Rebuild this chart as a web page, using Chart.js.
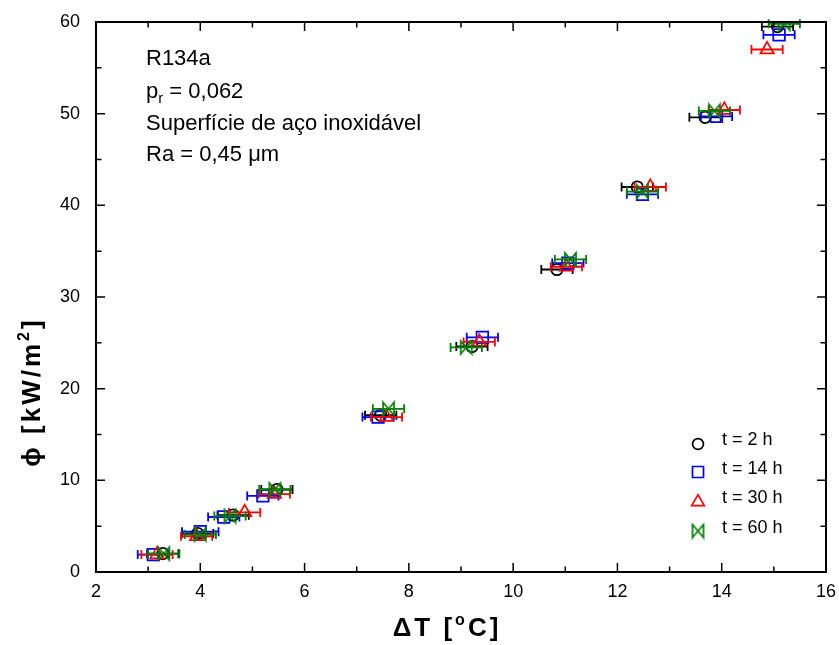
<!DOCTYPE html>
<html><head><meta charset="utf-8">
<script src="https://cdn.jsdelivr.net/npm/chart.js@4/dist/chart.umd.min.js"></script>
<style>html,body{margin:0;padding:0;background:#fff;} canvas{display:block;}</style>
</head><body>
<canvas id="c" width="839" height="645"></canvas>
<script>
// ---- data ----
const seriesLabels = ['t = 2 h', 't = 14 h', 't = 30 h', 't = 60 h'];
const dT_2h  = [3.28, 3.95, 4.63, 5.47, 7.46, 9.21, 10.84, 12.38, 13.68, 15.07];
const phi_2h = [2.0, 4.2, 6.2, 9.0, 17.1, 24.6, 33.0, 42.0, 49.6, 59.5];
const err_2h = [0.3, 0.3, 0.3, 0.3, 0.3, 0.3, 0.3, 0.3, 0.3, 0.3];
const dT_14h  = [3.10, 4.00, 4.45, 5.20, 7.41, 9.41, 11.05, 12.48, 13.90, 15.10];
const phi_14h = [1.9, 4.4, 6.0, 8.3, 16.9, 25.6, 33.7, 41.2, 49.7, 58.6];
const err_14h = [0.3, 0.35, 0.3, 0.3, 0.3, 0.3, 0.3, 0.3, 0.3, 0.3];
const dT_30h  = [3.17, 3.93, 4.85, 5.42, 7.57, 9.35, 11.02, 12.63, 14.05, 14.87];
const phi_30h = [1.9, 3.9, 6.5, 8.5, 16.9, 25.1, 33.3, 42.0, 50.4, 57.0];
const err_30h = [0.3, 0.3, 0.3, 0.3, 0.3, 0.3, 0.3, 0.3, 0.3, 0.3];
const dT_60h  = [3.30, 4.00, 4.57, 5.43, 7.61, 9.10, 11.10, 12.48, 13.86, 15.20];
const phi_60h = [2.0, 4.1, 6.1, 9.0, 17.8, 24.5, 34.1, 41.5, 50.3, 59.8];
const err_60h = [0.3, 0.3, 0.3, 0.3, 0.3, 0.3, 0.3, 0.3, 0.3, 0.3];
const xTickValues = [2, 4, 6, 8, 10, 12, 14, 16];
const yTickValues = [0, 10, 20, 30, 40, 50, 60];
const noteLines = ['R134a', 'p|r| = 0,062', 'Superfície de aço inoxidável', 'Ra = 0,45 μm'];
const xTitle = ['ΔT [', 'o', 'C]'];
const yTitle = ['ϕ [kW/m', '2', ']'];

// ---- helpers ----
const FONT = "'Liberation Sans', Arial, sans-serif";
function makeBowtie(color) {
  const c = document.createElement('canvas');
  c.width = 15; c.height = 17;
  const g = c.getContext('2d');
  g.strokeStyle = color; g.lineWidth = 1.7;
  g.beginPath();
  g.moveTo(2, 2); g.lineTo(13, 15); g.lineTo(13, 2); g.lineTo(2, 15); g.closePath();
  g.stroke();
  return c;
}
function pts(xs, ys) { return xs.map((x, i) => ({ x: x, y: ys[i] })); }

const colors = ['#000000', '#0000ff', '#ff0000', '#008000'];
const styles = ['circle', 'rect', 'triangle', makeBowtie('#008000')];
const radii = [5.7, 8.2, 7.7, 7];
const xs = [dT_2h, dT_14h, dT_30h, dT_60h];
const ys = [phi_2h, phi_14h, phi_30h, phi_60h];
const es = [err_2h, err_14h, err_30h, err_60h];

const datasets = seriesLabels.map((lab, i) => ({
  label: lab,
  data: pts(xs[i], ys[i]),
  xErr: es[i],
  borderColor: colors[i],
  backgroundColor: 'rgba(0,0,0,0)',
  pointStyle: styles[i],
  pointRadius: radii[i],
  pointHoverRadius: radii[i],
  pointBorderWidth: 1.7,
  showLine: false,
  order: 3 - i
}));

const errorBars = {
  id: 'errorBars',
  beforeDatasetDraw(chart, args) {
    const ds = chart.data.datasets[args.index];
    const ctx = chart.ctx, sx = chart.scales.x, sy = chart.scales.y;
    ctx.save();
    ctx.strokeStyle = ds.borderColor; ctx.lineWidth = 1.8;
    ds.data.forEach((p, j) => {
      const e = ds.xErr[j];
      const x1 = sx.getPixelForValue(p.x - e), x2 = sx.getPixelForValue(p.x + e);
      const y = sy.getPixelForValue(p.y);
      ctx.beginPath();
      ctx.moveTo(x1, y); ctx.lineTo(x2, y);
      ctx.moveTo(x1, y - 4.5); ctx.lineTo(x1, y + 4.5);
      ctx.moveTo(x2, y - 4.5); ctx.lineTo(x2, y + 4.5);
      ctx.stroke();
    });
    ctx.restore();
  }
};

function drawPieces(ctx, x, y, pieces) {
  let cx = x;
  pieces.forEach(p => {
    ctx.font = p[1];
    ctx.fillText(p[0], cx, y + p[2]);
    cx += ctx.measureText(p[0]).width;
  });
  return cx - x;
}
function piecesWidth(ctx, pieces) {
  let w = 0;
  pieces.forEach(p => { ctx.font = p[1]; w += ctx.measureText(p[0]).width; });
  return w;
}

const decor = {
  id: 'decor',
  afterDraw(chart) {
    const ctx = chart.ctx, a = chart.chartArea;
    const sx = chart.scales.x, sy = chart.scales.y;
    ctx.save();
    ctx.strokeStyle = '#000'; ctx.fillStyle = '#000';
    // ticks
    ctx.lineWidth = 1.5;
    ctx.beginPath();
    for (let v = 2; v <= 16; v += 1) {
      const px = sx.getPixelForValue(v);
      const L = (v % 2 === 0) ? 9 : 5.5;
      ctx.moveTo(px, a.bottom); ctx.lineTo(px, a.bottom - L);
      ctx.moveTo(px, a.top); ctx.lineTo(px, a.top + L);
    }
    for (let v = 0; v <= 60; v += 5) {
      const py = sy.getPixelForValue(v);
      const L = (v % 10 === 0) ? 9 : 5.5;
      ctx.moveTo(a.left, py); ctx.lineTo(a.left + L, py);
      ctx.moveTo(a.right, py); ctx.lineTo(a.right - L, py);
    }
    ctx.stroke();
    // frame
    ctx.lineWidth = 2;
    ctx.strokeRect(a.left, a.top, a.right - a.left, a.bottom - a.top);

    // notes
    ctx.textBaseline = 'middle'; ctx.textAlign = 'left';
    const fN = '22px ' + FONT, fSub = '15px ' + FONT;
    const noteY = [59, 92, 124, 155];
    noteLines.forEach((t, i) => {
      if (t.indexOf('|') >= 0) {
        const parts = t.split('|');
        drawPieces(ctx, 146, noteY[i], [[parts[0], fN, 0], [parts[1], fSub, 7], [parts[2], fN, 0]]);
      } else {
        ctx.font = fN; ctx.fillText(t, 146, noteY[i]);
      }
    });

    // legend
    const legY = [444, 472, 502, 531];
    const textY = [440, 469, 498, 528];
    seriesLabels.forEach((lab, i) => {
      ctx.lineWidth = 1.7; ctx.strokeStyle = colors[i]; ctx.fillStyle = 'rgba(0,0,0,0)';
      Chart.helpers.drawPoint(ctx, { pointStyle: styles[i], radius: radii[i] * 0.95, borderWidth: 1.7, rotation: 0 }, 698, legY[i]);
      ctx.font = '18px ' + FONT; ctx.fillStyle = '#000';
      ctx.fillText(lab, 722, textY[i]);
    });

    // titles
    const fb = 'bold 26px ' + FONT, fs = 'bold 16px ' + FONT;
    ctx.textBaseline = 'alphabetic';
    ctx.letterSpacing = '3px';
    const xp = [[xTitle[0], fb, 0], [xTitle[1], fs, -11], [xTitle[2], fb, 0]];
    const wx = piecesWidth(ctx, xp);
    drawPieces(ctx, 447 - wx / 2, 636, xp);

    ctx.save();
    ctx.translate(40, 392);
    ctx.rotate(-Math.PI / 2);
    const yp = [[yTitle[0], fb, 0], [yTitle[1], fs, -11], [yTitle[2], fb, 0]];
    const wy = piecesWidth(ctx, yp);
    drawPieces(ctx, -wy / 2, 0, yp);
    ctx.restore();
    ctx.letterSpacing = '0px';

    ctx.restore();
  }
};

new Chart(document.getElementById('c'), {
  type: 'scatter',
  data: { datasets: datasets },
  options: {
    responsive: false,
    animation: false,
    events: [],
    layout: { padding: { left: 0, right: 13, top: 22, bottom: 0 } },
    plugins: { legend: { display: false }, tooltip: { enabled: false } },
    scales: {
      x: {
        type: 'linear', min: 2, max: 16,
        afterFit(s) { s.height = 73; s.paddingLeft = 0; s.paddingRight = 0; },
        afterBuildTicks(s) { s.ticks = xTickValues.map(v => ({ value: v })); },
        grid: { display: false, drawTicks: false },
        border: { display: false },
        ticks: { color: '#000', font: { size: 18, family: FONT }, padding: 9, maxRotation: 0 }
      },
      y: {
        type: 'linear', min: 0, max: 60,
        afterFit(s) { s.width = 96; s.paddingTop = 0; s.paddingBottom = 0; },
        afterBuildTicks(s) { s.ticks = yTickValues.map(v => ({ value: v })); },
        grid: { display: false, drawTicks: false },
        border: { display: false },
        ticks: { color: '#000', font: { size: 18, family: FONT }, padding: 16 }
      }
    }
  },
  plugins: [errorBars, decor]
});
</script>
</body></html>
